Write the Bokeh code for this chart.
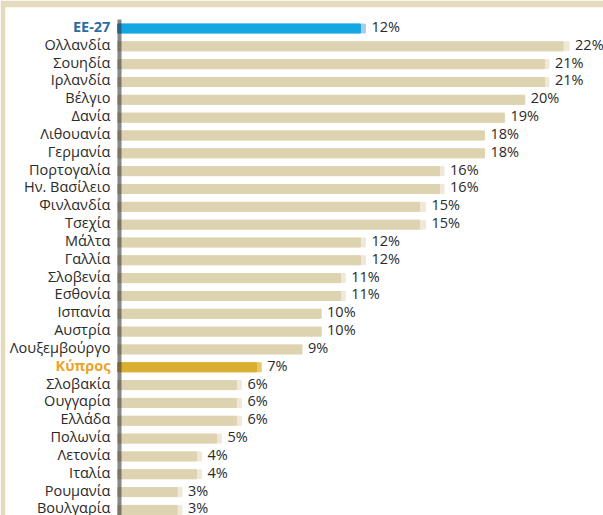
from bokeh.plotting import figure
from bokeh.models import Range1d, ColumnDataSource
from bokeh.core.properties import value
from bokeh.embed import file_html
from bokeh.resources import INLINE

countries = ["EE-27", "Ολλανδία", "Σουηδία", "Ιρλανδία", "Βέλγιο", "Δανία", "Λιθουανία",
             "Γερμανία", "Πορτογαλία", "Ην. Βασίλειο", "Φινλανδία", "Τσεχία", "Μάλτα",
             "Γαλλία", "Σλοβενία", "Εσθονία", "Ισπανία", "Αυστρία", "Λουξεμβούργο",
             "Κύπρος", "Σλοβακία", "Ουγγαρία", "Ελλάδα", "Πολωνία", "Λετονία", "Ιταλία",
             "Ρουμανία", "Βουλγαρία"]
# main (darker) part of each bar, in %
main_part = [11.85, 21.9, 20.98, 20.98, 20.0, 19.0, 18.0, 18.0, 15.77, 15.77, 14.78, 14.78,
             11.85, 11.85, 10.86, 10.86, 9.9, 9.9, 8.95, 6.7, 5.7, 5.7, 5.7, 4.71, 3.72, 3.72,
             2.76, 2.76]
# full bar length including the lighter tip, in %
total = [12.1, 22.2, 21.2, 21.2, 20.0, 19.0, 18.0, 18.0, 16.0, 16.0, 15.08, 15.08,
         12.1, 12.1, 11.1, 11.1, 9.9, 9.9, 8.95, 6.93, 5.95, 5.95, 5.95, 4.96, 3.97, 3.97,
         3.0, 3.0]
labels = ["12%", "22%", "21%", "21%", "20%", "19%", "18%", "18%", "16%", "16%", "15%", "15%",
          "12%", "12%", "11%", "11%", "10%", "10%", "9%", "7%", "6%", "6%", "6%", "5%", "4%",
          "4%", "3%", "3%"]

FRAME = "#e4dabd"
BEIGE = "#ded3b0"
BEIGE_TIP = "#efe8d6"
BLUE = "#14a7e3"
BLUE_TIP = "#a8cdea"
GOLD = "#d9ae30"
GOLD_TIP = "#e9c86a"
TEXT = "#2a2a2a"

n = len(countries)
idx = list(range(n))
main_col, tip_col, lab_col, lab_style = [], [], [], []
for c in countries:
    if c == "EE-27":
        main_col.append(BLUE); tip_col.append(BLUE_TIP); lab_col.append("#2b6ca3"); lab_style.append("bold")
    elif c == "Κύπρος":
        main_col.append(GOLD); tip_col.append(GOLD_TIP); lab_col.append("#eaa52b"); lab_style.append("bold")
    else:
        main_col.append(BEIGE); tip_col.append(BEIGE_TIP); lab_col.append(TEXT); lab_style.append("normal")

src = ColumnDataSource(dict(y=idx, country=countries, main=main_part, total=total,
                            label=labels, main_col=main_col, tip_col=tip_col,
                            lab_col=lab_col, lab_style=lab_style,
                            left=[-0.2] * n, lab_x=[-0.55] * n))

PX = 20.16      # pixels per percent
ROW = 17.83     # pixels per row
p = figure(width=603, height=515,
           x_range=Range1d(-(121 - 5) / PX, (603 - 121) / PX),
           y_range=Range1d((515 - 28) / ROW, -(28 - 7) / ROW),
           output_backend="svg", toolbar_location=None,
           x_axis_location=None, y_axis_location=None,
           min_border_left=5, min_border_top=7, min_border_right=0, min_border_bottom=0)
p.border_fill_color = FRAME
p.background_fill_color = "white"
p.outline_line_color = None
p.xgrid.visible = False
p.ygrid.visible = False

bh = 9 / ROW
p.hbar(y="y", left="left", right="total", height=bh, color="tip_col", source=src)
p.hbar(y="y", left="left", right="main", height=bh, color="main_col", source=src)

# vertical axis stripe
p.quad(left=[-0.2], right=[0], top=[-(28 - 19) / ROW], bottom=[(515 - 28) / ROW + 1],
       color="#373737", alpha=0.6, line_color=None)

p.text(x="lab_x", y="y", text="country", source=src, text_align="right",
       text_baseline="middle", text_font=value("Open Sans"), text_font_size="14.5px",
       text_color="lab_col", text_font_style="lab_style", y_offset=-2)

p.text(x="total", y="y", text="label", source=src, text_align="left",
       text_baseline="middle", text_font=value("Open Sans"), text_font_size="14.5px",
       text_color=TEXT, x_offset=6, y_offset=-2)

open("out.html", "w").write(file_html(p, INLINE))
